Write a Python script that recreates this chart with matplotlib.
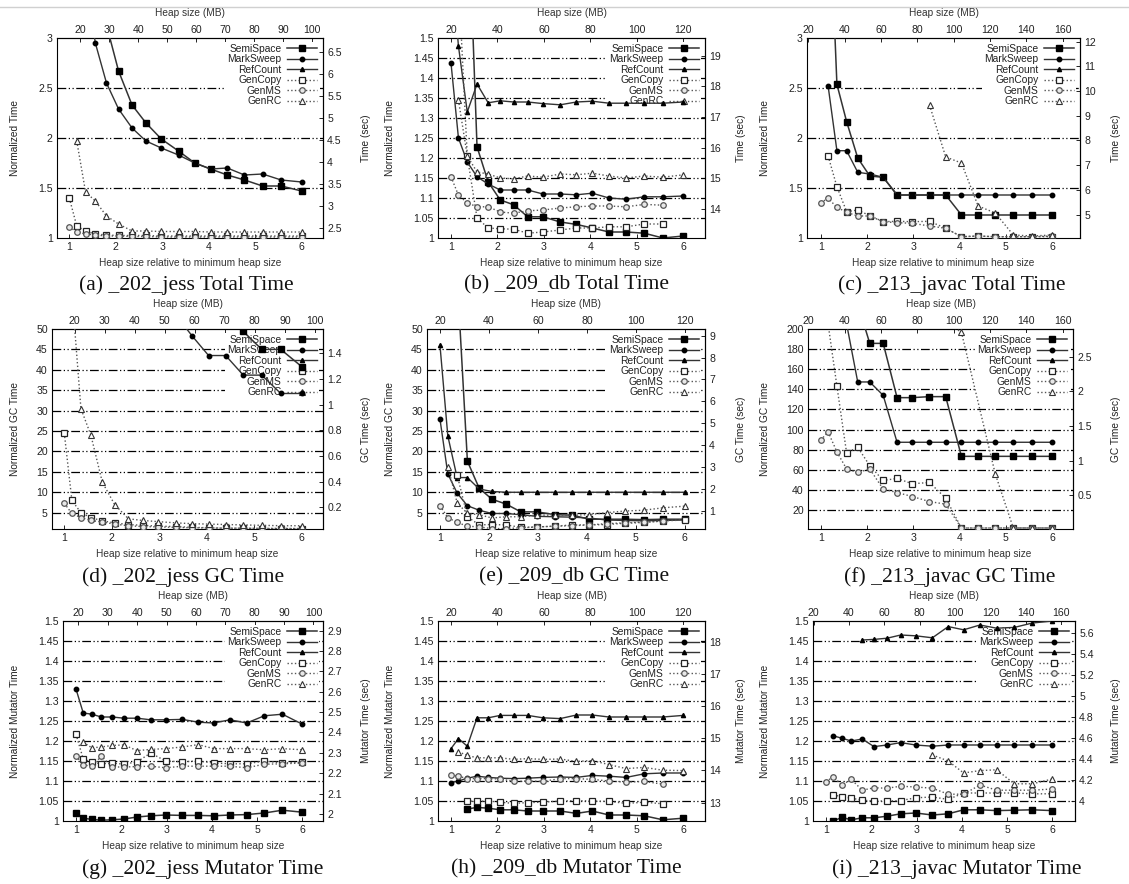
import matplotlib
matplotlib.use('Agg')
import matplotlib.pyplot as plt
import numpy as np
from matplotlib.lines import Line2D
from matplotlib.ticker import FuncFormatter

plt.rcParams['font.family'] = ['Liberation Sans', 'DejaVu Sans']

N = None

# heap size relative to minimum heap size (shared by every panel)
heap_rel = [1.0, 1.16, 1.35, 1.56, 1.8, 2.06, 2.35, 2.65, 2.98, 3.35, 3.7, 4.04, 4.4, 4.77, 5.16, 5.56, 6.0]

collectors = ['SemiSpace', 'MarkSweep', 'RefCount', 'GenCopy', 'GenMS', 'GenRC']

# rows: SemiSpace, MarkSweep, RefCount, GenCopy, GenMS, GenRC
jess_total = [
    [N, N, N, N, 3.13, 2.67, 2.33, 2.15, 1.99, 1.87, 1.75, 1.69, 1.63, 1.58, 1.52, 1.52, 1.47],
    [N, N, 3.6, 2.95, 2.55, 2.29, 2.10, 1.97, 1.90, 1.83, 1.75, 1.69, 1.70, 1.63, 1.64, 1.58, 1.56],
    [N] * 17,
    [1.40, 1.12, 1.07, 1.04, 1.03, 1.025, 1.025, 1.025, 1.02, 1.02, 1.02, 1.02, 1.02, 1.02, 1.02, 1.02, 1.02],
    [1.11, 1.06, 1.04, 1.03, 1.02, 1.02, 1.015, 1.015, 1.01, 1.01, 1.01, 1.01, 1.01, 1.01, 1.01, 1.01, 1.01],
    [N, 1.97, 1.46, 1.37, 1.22, 1.14, 1.07, 1.07, 1.065, 1.065, 1.065, 1.06, 1.06, 1.06, 1.06, 1.06, 1.06],
]
db_total = [
    [N, N, 1.9, 1.228, 1.14, 1.095, 1.083, 1.053, 1.053, 1.04, 1.034, 1.025, 1.015, 1.015, 1.012, 1.0, 1.005],
    [1.437, 1.25, 1.19, 1.153, 1.135, 1.12, 1.12, 1.12, 1.11, 1.11, 1.108, 1.112, 1.10, 1.097, 1.103, 1.103, 1.105],
    [1.7, 1.48, 1.315, 1.385, 1.338, 1.343, 1.34, 1.34, 1.336, 1.333, 1.34, 1.342, 1.337, 1.337, 1.337, 1.337, 1.34],
    [N, 1.65, 1.205, 1.05, 1.025, 1.023, 1.022, 1.012, 1.015, 1.02, 1.025, 1.025, 1.028, 1.028, 1.035, 1.035, N],
    [1.153, 1.107, 1.088, 1.078, 1.078, 1.065, 1.062, 1.068, 1.07, 1.075, 1.078, 1.08, 1.08, 1.078, 1.084, 1.082, N],
    [N, 1.345, 1.205, 1.165, 1.16, 1.15, 1.148, 1.155, 1.152, 1.16, 1.158, 1.162, 1.155, 1.15, 1.155, 1.152, 1.158],
]
javac_total = [
    [N, 4.7, 2.537, 2.163, 1.80, 1.62, 1.607, 1.43, 1.43, 1.43, 1.43, 1.23, 1.23, 1.23, 1.23, 1.23, 1.23],
    [N, 2.52, 1.873, 1.873, 1.657, 1.64, 1.607, 1.43, 1.43, 1.43, 1.43, 1.43, 1.43, 1.43, 1.43, 1.43, 1.43],
    [N] * 17,
    [N, 1.82, 1.513, 1.263, 1.28, 1.223, 1.163, 1.167, 1.163, 1.167, 1.097, 1.013, 1.02, 1.013, 1.013, 1.013, 1.013],
    [1.353, 1.397, 1.307, 1.257, 1.22, 1.22, 1.163, 1.153, 1.147, 1.12, 1.097, 1.013, 1.02, 1.013, 1.013, 1.013, 1.02],
    [N, N, N, N, N, N, N, N, N, 2.33, 1.81, 1.75, 1.32, 1.25, 1.03, 1.02, 1.03],
]
jess_gc = [
    [N, N, N, N, N, N, N, N, N, N, N, N, 55, 49.4, 45.0, 45.0, 40.8],
    [N, N, N, N, N, N, N, N, N, 53.4, 48.2, 43.5, 43.5, 38.7, 38.7, 34.2, 34.2],
    [N] * 17,
    [24.5, 8, 5, 3.8, 3, 2.5, 2.1, 1.9, 1.7, 1.6, 1.4, 1.3, 1.2, 1.2, 1.1, 1.1, 1.1],
    [7.3, 4.8, 3.8, 3.1, 2.7, 2.2, 1.8, 1.6, 1.5, 1.4, 1.3, 1.25, 1.2, 1.2, 1.15, 1.15, 1.1],
    [N, 59, 30.5, 24, 12.5, 7, 3.5, 3.1, 2.8, 2.5, 2.3, 2.2, 2.1, 2.0, 1.9, 1.8, 1.8],
]
db_gc = [
    [N, N, 63, 17.6, 11, 8.3, 7.1, 5.2, 5.2, 4.5, 4.4, 3.4, 3.4, 3.4, 3.3, 3.4, 3.4],
    [27.9, 14.5, 9.8, 6.7, 5.6, 4.8, 4.8, 4.5, 4.1, 4.0, 3.9, 3.7, 3.2, 3.1, 3.0, 3.1, 3.2],
    [46, 23.8, 13.6, 13.6, 10.8, 10.2, 10, 10, 10, 10, 10, 10, 10, 10, 10, 10, 10],
    [N, N, 14.3, 4, 2, 2.1, 2, 1.4, 1.5, 1.7, 2, 2, 2.1, 2.4, 2.6, 3, 3.2],
    [6.7, 3.8, 2.6, 1.7, 1.5, 1.1, 1.1, 1.3, 1.5, 1.7, 1.8, 2.0, 2.3, 2.5, 2.7, 2.9, N],
    [N, 16.3, 7.4, 4.8, 4.5, 3.7, 4, 4, 4.4, 4.4, 4.4, 4.5, 5, 5.4, 5.6, 6.2, 6.6],
]
javac_gc = [
    [N, N, N, N, 225, 185.7, 185.7, 131.7, 131.7, 132.7, 132.7, 73.3, 73.3, 73.3, 73.3, 73.3, 73.3],
    [N, N, 300, 205, 147.3, 147.3, 134, 87.3, 87.3, 87.3, 87.3, 87.3, 87.3, 87.3, 87.3, 87.3, 87.3],
    [N] * 17,
    [N, 205, 143.3, 76.7, 82.3, 64, 49.3, 51.3, 46, 47.3, 31.7, 2, 2, 2, 2, 2, 2],
    [89.3, 97.7, 77.7, 60.7, 57.3, 60.7, 40.7, 37.3, 33.3, 28.3, 25.7, 2, 2, 2, 2, 2, 2],
    [N, N, N, N, N, N, N, N, N, N, 207, 196.7, N, 56, 2, 2, 2],
]
jess_mut = [
    [1.02, 1.007, 1.004, 1.002, 1.003, 1.005, 1.01, 1.013, 1.015, 1.014, 1.014, 1.013, 1.015, 1.016, 1.02, 1.027, 1.022],
    [1.33, 1.27, 1.267, 1.26, 1.26, 1.257, 1.257, 1.253, 1.253, 1.254, 1.247, 1.245, 1.253, 1.245, 1.263, 1.267, 1.242],
    [N] * 17,
    [1.217, 1.155, 1.147, 1.143, 1.145, 1.142, 1.148, 1.17, 1.15, 1.148, 1.15, 1.145, 1.143, 1.143, 1.15, 1.145, 1.147],
    [1.163, 1.14, 1.137, 1.162, 1.135, 1.135, 1.136, 1.137, 1.133, 1.137, 1.137, 1.137, 1.137, 1.133, 1.142, 1.143, 1.145],
    [N, 1.197, 1.183, 1.185, 1.189, 1.19, 1.176, 1.179, 1.181, 1.185, 1.191, 1.181, 1.181, 1.181, 1.178, 1.181, 1.178],
]
db_mut = [
    [N, N, 1.03, 1.034, 1.032, 1.028, 1.028, 1.025, 1.025, 1.025, 1.019, 1.025, 1.015, 1.015, 1.013, 1.003, 1.007],
    [1.096, 1.1, 1.107, 1.112, 1.109, 1.107, 1.106, 1.107, 1.109, 1.11, 1.109, 1.114, 1.112, 1.109, 1.118, 1.12, 1.12],
    [1.181, 1.206, 1.187, 1.258, 1.258, 1.264, 1.264, 1.264, 1.258, 1.256, 1.265, 1.265, 1.26, 1.26, 1.26, 1.26, 1.264],
    [N, N, 1.05, 1.049, 1.05, 1.047, 1.044, 1.046, 1.047, 1.05, 1.051, 1.05, 1.049, 1.044, 1.047, 1.043, N],
    [1.114, 1.112, 1.106, 1.106, 1.106, 1.105, 1.099, 1.1, 1.099, 1.106, 1.106, 1.104, 1.1, 1.097, 1.099, 1.092, N],
    [N, 1.173, 1.164, 1.158, 1.158, 1.158, 1.154, 1.156, 1.154, 1.155, 1.149, 1.151, 1.141, 1.131, 1.134, 1.127, 1.126],
]
javac_mut = [
    [N, 1.0, 1.009, 1.003, 1.008, 1.008, 1.012, 1.018, 1.02, 1.015, 1.018, 1.028, 1.028, 1.026, 1.027, 1.028, 1.026],
    [N, 1.213, 1.207, 1.20, 1.205, 1.186, 1.19, 1.196, 1.19, 1.187, 1.19, 1.19, 1.19, 1.19, 1.19, 1.19, 1.19],
    [N, N, N, N, 1.4525, 1.454, 1.457, 1.465, 1.463, 1.458, 1.486, 1.478, 1.49, 1.482, 1.484, 1.495, 1.5],
    [N, 1.065, 1.061, 1.057, 1.052, 1.05, 1.05, 1.051, 1.058, 1.06, 1.054, 1.07, 1.07, 1.07, 1.07, 1.068, 1.068],
    [1.098, 1.111, 1.09, 1.104, 1.077, 1.083, 1.082, 1.087, 1.085, 1.082, 1.067, 1.067, 1.09, 1.077, 1.077, 1.077, 1.08],
    [N, N, N, N, N, N, N, N, N, 1.165, 1.15, 1.12, 1.126, 1.128, 1.093, 1.093, 1.105],
]

# absolute seconds per unit of normalized time (right axis)
sec_per_unit = [2.27, 13.05, 4.05, 0.0318, 0.186, 0.0145, 1.965, 12.43, 3.81]
# heap size in MB = a * relative + b (top axis)
mb_scale = [(16.0, 0.3), (20.0, 0.0), (25.5, 1.3), (15.8, 0.8), (20.0, 0.0), (25.5, 1.3), (15.4, 3.8), (20.0, 0.0), (25.6, 1.4)]

captions = ['(a) _202_jess Total Time', '(b) _209_db Total Time', '(c) _213_javac Total Time',
            '(d) _202_jess GC Time', '(e) _209_db GC Time', '(f) _213_javac GC Time',
            '(g) _202_jess Mutator Time', '(h) _209_db Mutator Time', '(i) _213_javac Mutator Time']

W, H = 1129, 884
fig = plt.figure(figsize=(W / 100, H / 100), dpi=100)
fig.add_artist(Line2D([0, 1], [1 - 7 / H] * 2, color='#d0d0d0', lw=1))

styles = [
    dict(ls='-', marker='s', ms=4.6, mfc='black', mec='black', color='#333333', lw=1.1),
    dict(ls='-', marker='o', ms=3.2, mfc='black', mec='black', color='#333333', lw=1.0),
    dict(ls='-', marker='^', ms=3.0, mfc='black', mec='black', color='#333333', lw=1.0),
    dict(ls=':', marker='s', ms=4.4, mfc='white', mec='#222222', mew=0.9, color='#555555', lw=1.0),
    dict(ls=':', marker='o', ms=4.0, mfc='#e8e8e8', mec='#555555', mew=0.9, color='#555555', lw=1.0),
    dict(ls=':', marker='^', ms=4.0, mfc='white', mec='#333333', mew=0.8, color='#555555', lw=1.0),
]

# layout in pixels: (left, top, right, bottom)
rects = [(57, 38, 323, 238), (438, 38, 705, 238), (807, 38, 1080, 238),
         (52, 329, 323, 529), (427, 329, 705, 529), (808, 329, 1073, 529),
         (63, 621, 323, 821), (438, 621, 705, 821), (813, 621, 1075, 821)]
xlims = [(0.735, 6.46), (0.72, 6.467), (0.704, 6.6), (0.741, 6.45), (0.735, 6.41), (0.726, 6.45),
         (0.713, 6.457), (0.72, 6.467), (0.713, 6.5)]
cap_pos = [(186, 285), (566, 285), (952, 285), (183, 577), (574, 577), (950, 577),
           (203, 869), (566, 869), (957, 869)]

norm_t = np.round(np.arange(1, 1.501, 0.05), 2)
yl = [((1, 3), np.arange(1, 3.01, 0.5)), ((1, 1.5), norm_t), ((1, 3), np.arange(1, 3.01, 0.5)),
      ((1, 50), np.arange(5, 50.1, 5)), ((1, 50), np.arange(5, 50.1, 5)), ((1, 200), np.arange(20, 200.1, 20)),
      ((1, 1.5), norm_t), ((1, 1.5), norm_t), ((1, 1.5), norm_t)]
rticks = [np.arange(2.5, 6.51, 0.5), np.arange(14, 19.1, 1), np.arange(5, 12.1, 1),
          np.arange(0.2, 1.41, 0.2), np.arange(1, 9.1, 1), np.arange(0.5, 2.51, 0.5),
          np.arange(2.0, 2.91, 0.1), np.arange(13, 18.1, 1), np.arange(4.0, 5.61, 0.2)]
mbticks = [range(20, 101, 10), range(20, 121, 20), range(20, 161, 20)] * 3
ylabels = ['Normalized Time', 'Normalized GC Time', 'Normalized Mutator Time']
rlabels = ['Time (sec)', 'GC Time (sec)', 'Mutator Time (sec)']

datasets = [jess_total, db_total, javac_total, jess_gc, db_gc, javac_gc, jess_mut, db_mut, javac_mut]
fmt = FuncFormatter(lambda v, p: f'{v:g}')
fs = 7.6
lfs = 7.3
x = np.array(heap_rel)


def fx(px):
    return px / W


def fy(py):
    return 1 - py / H


for i, data in enumerate(datasets):
    l, t, r, b = rects[i]
    ax = fig.add_axes([l / W, 1 - b / H, (r - l) / W, (b - t) / H])
    ax.set_xlim(*xlims[i])
    ylim, yt = yl[i]
    ax.set_ylim(*ylim)
    ax.set_xticks([1, 2, 3, 4, 5, 6])
    ax.set_yticks(yt)
    ax.yaxis.set_major_formatter(fmt)
    ax.tick_params(direction='in', length=3, width=0.6, labelsize=fs, pad=3,
                   top=False, right=False, labelcolor='#222222')
    for s in ax.spines.values():
        s.set_linewidth(0.8)

    for gy in yt:
        if ylim[0] < gy < ylim[1]:
            ax.axhline(gy, color='black', lw=0.9, ls=(0, (7, 2, 1, 2, 1, 2)), zorder=1)

    for name, row, st in zip(collectors, data, styles):
        y = np.array(row, dtype=float)
        ok = np.isfinite(y)
        ax.plot(x[ok], y[ok], label=name, zorder=3, clip_on=True, **st)

    leg = ax.legend(loc='upper right', markerfirst=False, fontsize=7.4, frameon=True,
                    fancybox=False, edgecolor='none', facecolor='white', framealpha=1,
                    handlelength=3.0, handletextpad=0.5, labelspacing=0.05,
                    borderpad=0.2, borderaxespad=0.35)
    leg.set_zorder(2)
    for txt in leg.get_texts():
        txt.set_color('#222222')

    k = sec_per_unit[i]
    sec = ax.secondary_yaxis('right', functions=(lambda v, k=k: v * k, lambda v, k=k: v / k))
    sec.set_yticks(rticks[i])
    sec.yaxis.set_major_formatter(fmt)
    sec.tick_params(direction='in', length=3, width=0.6, labelsize=fs, pad=3, labelcolor='#222222')

    a, c = mb_scale[i]
    top = ax.secondary_xaxis('top', functions=(lambda v, a=a, c=c: v * a + c, lambda v, a=a, c=c: (v - c) / a))
    top.set_xticks(list(mbticks[i]))
    top.tick_params(direction='in', length=3, width=0.6, labelsize=fs, pad=2, labelcolor='#222222')

    col = i % 3
    row = i // 3
    mid_x = (l + r) / 2
    mid_y = (t + b) / 2
    fig.text(fx(mid_x), fy(b + 25), 'Heap size relative to minimum heap size',
             ha='center', va='center', fontsize=lfs, color='#333333')
    fig.text(fx(mid_x), fy(t - 25), 'Heap size (MB)',
             ha='center', va='center', fontsize=lfs, color='#333333')
    fig.text(fx(col * 375 + 15), fy(mid_y), ylabels[row], rotation=90,
             ha='center', va='center', fontsize=lfs, color='#222222')
    fig.text(fx(col * 375 + 366), fy(mid_y), rlabels[row], rotation=90,
             ha='center', va='center', fontsize=lfs, color='#222222')

    cx, cy = cap_pos[i]
    fig.text(fx(cx), fy(cy), captions[i], ha='center', va='center',
             fontsize=15.5, family='Liberation Serif', color='#111111')

fig.savefig('out.png', dpi=100)
